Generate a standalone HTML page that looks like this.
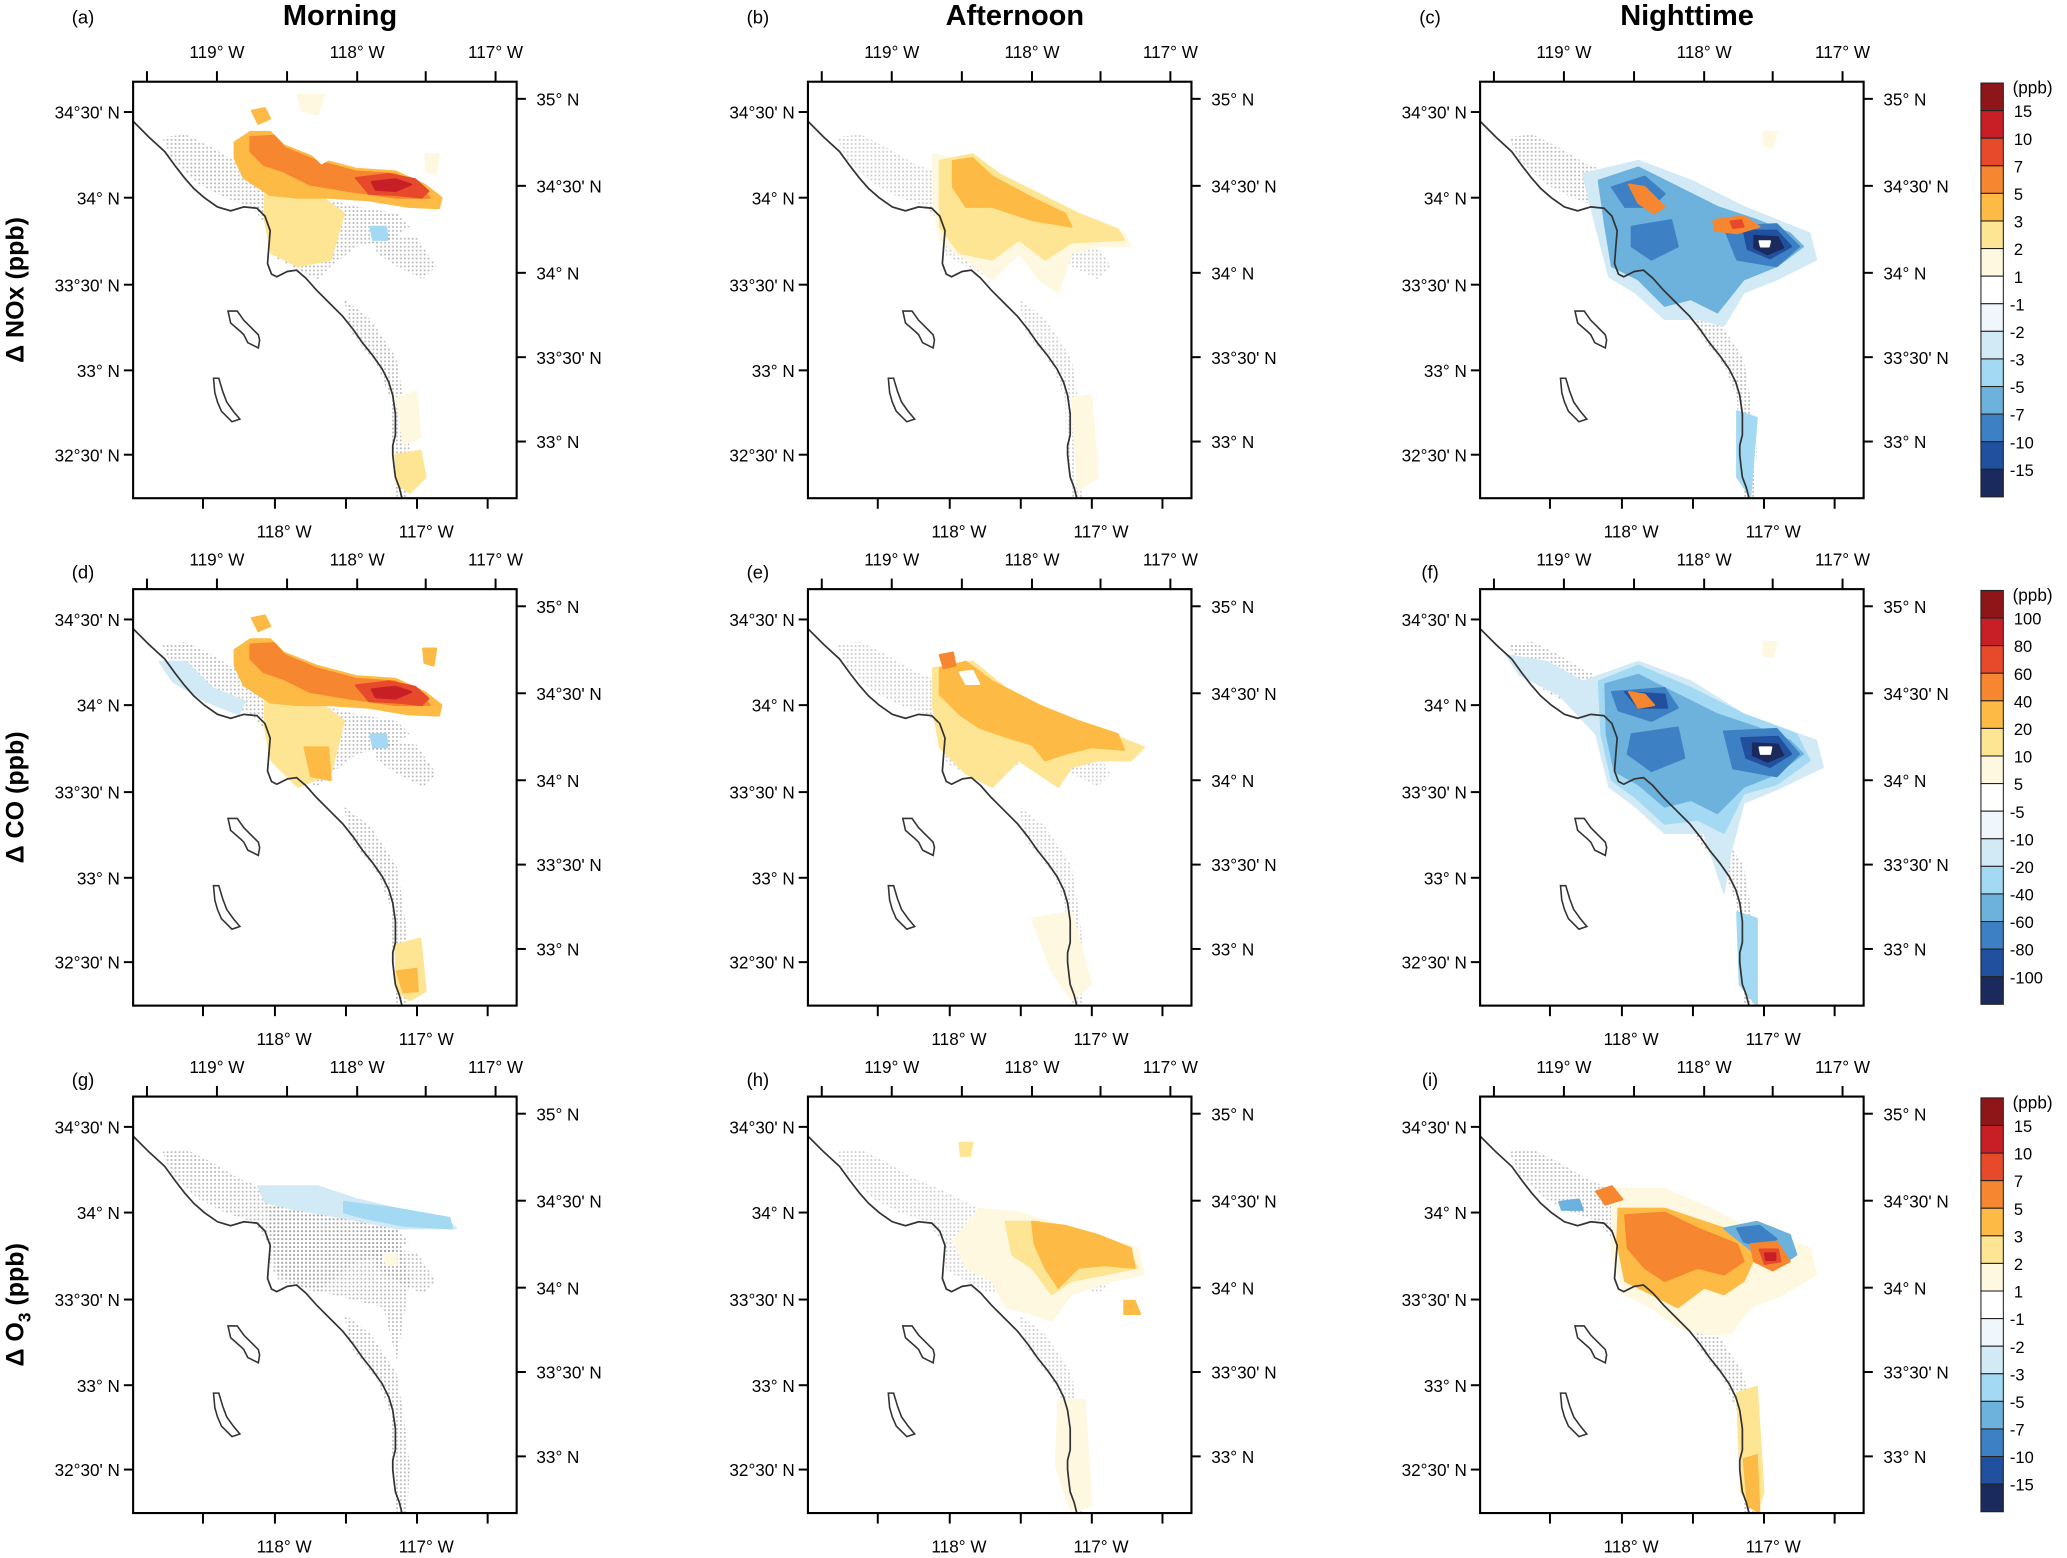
<!DOCTYPE html>
<html><head><meta charset="utf-8"><style>
html,body{margin:0;padding:0;background:#fff;}
svg{display:block;font-family:"Liberation Sans",sans-serif;}
</style></head><body>
<svg id="fig" xmlns="http://www.w3.org/2000/svg" width="2067" height="1558" viewBox="0 0 1568.3 1182.1">
<defs>
<pattern id="stip" width="3" height="3" patternUnits="userSpaceOnUse"><rect x="0.5" y="0.5" width="1.3" height="1.3" fill="#9a9a9a"/></pattern>
</defs>
</svg>
<script>
const NS='http://www.w3.org/2000/svg';
const svg=document.getElementById('fig');
const cmap=['#8e1518','#c81e26','#e64a2b','#f6862f','#fdbb45','#fde593','#fff8e1','#ffffff','#f0f7fc','#d2eaf6','#a3d9f3','#6db1dd','#3d81c4','#21509f','#1b2a5c'];
const colX=[101,613,1123];
const rowY=[62,447,832];
const FW=291, FH=316;
const colTitles=['Morning','Afternoon','Nighttime'];
const panelLetters=['(a)','(b)','(c)','(d)','(e)','(f)','(g)','(h)','(i)'];
const topTickPos=[10.5,63.6,116.8,170,222,275];
const topTickLabels=['','119° W','','118° W','','117° W'];
const botTickPos=[53,107.6,161.5,215.4,269];
const botTickLabels=['','118° W','','117° W',''];
const leftTickPos=[23,88,154,219,283];
const leftTickLabels=['34°30\' N','34° N','33°30\' N','33° N','32°30\' N'];
const rightTickPos=[13,79,145,209,273];
const rightTickLabels=['35° N','34°30\' N','34° N','33°30\' N','33° N'];
const cbLabelsA=['15','10','7','5','3','2','1','-1','-2','-3','-5','-7','-10','-15'];
const cbLabelsB=['100','80','60','40','20','10','5','-5','-10','-20','-40','-60','-80','-100'];
const coast=[[0,30],[12,42],[24,53],[32,64],[39,73],[46,81],[54,88],[64,95],[74,98],[84,95],[94,96],[100,102],[104,113],[103,125],[102,138],[105,146],[109,148],[117,144],[124,143],[131,149],[139,158],[149,168],[159,178],[167,188],[174,198],[182,208],[189,218],[194,228],[197,238],[199,252],[199,268],[197,276],[197,283],[198,292],[199,300],[202,308],[204,316]];
const island1=[[72,174],[79,174],[84,181],[89,186],[95,192],[96,196],[95,202],[87,198],[84,192],[82,190],[74,183]];
const island2=[[61,225],[65,225],[68,235],[71,243],[76,250],[81,256],[75,258],[67,250],[64,243],[62,236]];
const stippleRegions=[
 [[22,42],[40,40],[60,50],[80,62],[100,70],[130,85],[170,95],[200,100],[210,110],[195,120],[170,125],[150,140],[140,150],[120,140],[105,132],[102,110],[90,95],[70,88],[50,78],[30,60]],
 [[160,165],[180,180],[200,210],[205,240],[210,280],[208,316],[200,316],[196,280],[195,240],[185,215],[165,190]],
 [[180,115],[215,118],[230,140],[220,150],[200,140],[185,130]]
];
const blobs=[
 // (a) NOx morning
 [[5,[[100,85],[140,85],[160,100],[150,135],[125,140],[105,130],[100,105]]],[5,[[199,283],[218,280],[222,300],[210,312],[200,305]]],[6,[[200,240],[215,235],[218,270],[205,275]]],[6,[[222,55],[232,55],[230,70],[222,68]]],[6,[[125,10],[145,10],[140,25],[128,22]]],[4,[[77,46],[89,38],[104,38],[114,48],[139,58],[169,66],[199,68],[221,78],[234,88],[232,96],[209,95],[179,90],[149,88],[124,88],[104,86],[84,73],[77,58]]],[3,[[89,42],[107,41],[115,50],[139,60],[169,68],[199,70],[219,80],[225,88],[199,88],[164,83],[134,78],[114,68],[99,63],[89,53]]],[2,[[169,73],[194,70],[214,74],[224,83],[219,88],[199,86],[179,85]]],[1,[[181,76],[199,74],[211,78],[199,83],[184,82]]],[7,[[133,52],[142,50],[150,58],[143,62]]],[4,[[90,22],[100,20],[104,28],[95,32]]],[10,[[180,110],[192,110],[193,120],[182,120]]]],
 // (b)
 [[6,[[95,55],[120,60],[160,80],[200,100],[240,115],[245,125],[220,125],[200,130],[190,160],[175,150],[160,130],[140,150],[120,135],[100,120],[95,90]]],[6,[[200,240],[215,238],[220,300],[205,310]]],[5,[[100,60],[125,55],[145,70],[175,85],[205,100],[235,112],[240,120],[200,122],[180,135],[160,120],[140,135],[115,130],[100,110]]],[4,[[110,60],[125,58],[140,72],[170,88],[195,100],[200,110],[170,105],[140,95],[120,95],[110,80]]]],
 // (c)
 [[9,[[78,70],[120,60],[160,75],[200,95],[250,115],[255,135],[225,150],[200,160],[185,185],[165,180],[140,180],[118,160],[98,148],[88,110]]],[11,[[90,75],[120,65],[150,80],[180,95],[210,105],[235,115],[245,125],[225,140],[200,150],[180,175],[160,165],[140,170],[120,150],[100,140],[95,110]]],[12,[[100,80],[125,72],[140,85],[130,95],[110,95]]],[12,[[115,110],[145,105],[150,125],[130,135],[115,125]]],[12,[[185,110],[225,108],[242,125],[225,140],[195,135]]],[13,[[200,113],[225,113],[236,125],[220,134],[203,127]]],[14,[[208,117],[226,118],[230,126],[218,131],[208,126]]],[7,[[212,121],[220,121],[219,125],[213,125]]],[3,[[113,78],[125,80],[140,95],[132,100],[120,92]]],[3,[[177,105],[200,102],[212,110],[195,115],[178,113]]],[2,[[190,106],[198,105],[200,110],[192,111]]],[10,[[195,250],[210,255],[205,315],[195,300]]],[6,[[215,38],[225,38],[222,50],[215,48]]]],
 // (d) CO morning
 [[9,[[20,55],[40,55],[60,75],[85,85],[80,95],[55,85],[30,70]]],[5,[[100,85],[140,85],[160,100],[150,140],[125,150],[105,130],[100,105]]],[5,[[199,270],[218,265],[222,305],[210,312],[200,305]]],[4,[[200,290],[215,288],[216,305],[205,306]]],[4,[[77,46],[89,38],[104,38],[114,48],[139,58],[169,66],[199,68],[221,78],[234,88],[232,96],[209,95],[179,90],[149,88],[124,88],[104,86],[84,73],[77,58]]],[4,[[130,120],[148,120],[150,145],[135,142]]],[3,[[89,42],[107,41],[115,50],[139,60],[169,68],[199,70],[219,80],[225,88],[199,88],[164,83],[134,78],[114,68],[99,63],[89,53]]],[2,[[169,73],[194,70],[214,74],[224,83],[219,88],[199,86],[179,85]]],[1,[[181,76],[199,74],[211,78],[199,83],[184,82]]],[4,[[90,22],[100,20],[104,28],[95,32]]],[4,[[220,45],[230,45],[228,58],[221,56]]],[10,[[180,110],[192,110],[193,120],[182,120]]]],
 // (e)
 [[6,[[170,250],[200,245],[215,300],[200,312],[185,290]]],[5,[[95,60],[125,55],[150,75],[190,95],[230,110],[255,120],[245,130],[220,130],[200,135],[190,150],[175,140],[160,130],[140,150],[120,140],[100,120],[95,90]]],[4,[[100,60],[120,55],[140,70],[175,88],[205,100],[235,110],[240,122],[215,120],[195,125],[180,130],[170,118],[150,112],[130,105],[115,95],[100,80]]],[3,[[100,50],[110,48],[112,58],[103,60]]],[7,[[115,63],[125,62],[130,72],[120,72]]]],
 // (f)
 [[9,[[20,50],[50,55],[78,70],[120,55],[160,70],[200,95],[255,115],[260,135],[225,152],[200,162],[190,200],[185,230],[170,185],[140,185],[118,165],[98,150],[88,110],[60,80],[30,65]]],[10,[[90,70],[120,58],[160,75],[200,95],[240,110],[250,130],[225,148],[200,155],[185,185],[165,175],[140,178],[118,158],[100,145],[92,110]]],[11,[[95,72],[120,65],[150,80],[180,95],[210,105],[235,115],[245,125],[225,140],[200,150],[180,170],[160,160],[140,165],[120,148],[102,138],[96,110]]],[12,[[100,78],[140,75],[150,90],[130,100],[105,92]]],[12,[[115,110],[150,105],[155,128],[130,138],[112,125]]],[12,[[185,108],[225,106],[242,125],[225,142],[192,136]]],[13,[[110,78],[140,80],[142,90],[120,90]]],[13,[[198,113],[226,112],[236,125],[220,135],[202,128]]],[14,[[207,117],[226,118],[230,126],[218,131],[207,126]]],[7,[[212,120],[221,120],[220,125],[213,125]]],[3,[[113,78],[125,80],[132,88],[120,90]]],[10,[[195,245],[210,250],[210,316],[197,300]]],[6,[[215,40],[225,40],[222,52],[215,50]]]],
 // (g) O3 morning
 [[9,[[95,68],[140,68],[170,78],[200,85],[240,95],[245,100],[200,100],[160,92],[120,85],[100,80]]],[10,[[160,80],[200,85],[240,92],[242,100],[205,98],[175,92],[160,88]]],[6,[[190,120],[200,120],[200,128],[192,128]]]],
 // (h)
 [[6,[[130,85],[160,88],[200,100],[250,115],[255,135],[230,140],[200,150],[185,170],[170,165],[150,160],[140,140],[120,130],[110,110]]],[6,[[190,230],[210,230],[215,310],[200,316],[188,280]]],[5,[[150,95],[175,95],[200,105],[245,120],[250,130],[225,135],[200,140],[185,150],[170,130],[155,120]]],[4,[[170,95],[195,98],[220,105],[245,115],[248,130],[225,128],[205,130],[190,145],[180,130],[172,112]]],[4,[[240,155],[248,155],[252,165],[240,165]]],[5,[[115,35],[125,35],[123,45],[116,45]]]],
 // (i)
 [[6,[[100,70],[140,70],[175,85],[205,100],[250,115],[255,135],[230,150],[205,160],[190,180],[170,180],[150,175],[130,160],[110,150],[100,120]]],[4,[[105,85],[140,85],[170,95],[200,105],[210,118],[200,140],[185,150],[170,145],[150,160],[130,150],[110,140],[104,110]]],[3,[[110,90],[140,88],[165,100],[195,112],[200,125],[185,135],[165,130],[140,140],[125,130],[112,115]]],[3,[[88,72],[100,68],[108,78],[95,82]]],[11,[[185,100],[210,95],[235,105],[240,120],[228,128],[210,120]]],[12,[[195,100],[212,98],[225,108],[215,115],[200,110]]],[3,[[205,112],[225,110],[235,125],[222,132],[208,125]]],[2,[[212,116],[226,116],[228,125],[216,127]]],[1,[[216,119],[224,119],[224,124],[217,124]]],[5,[[195,225],[210,220],[215,300],[210,316],[198,300]]],[4,[[200,275],[210,272],[212,316],[203,310]]],[11,[[60,80],[75,78],[78,86],[62,86]]]]
];
function el(tag,attrs,parent){const e=document.createElementNS(NS,tag);for(const k in attrs)e.setAttribute(k,attrs[k]);(parent||svg).appendChild(e);return e;}
function pts(arr,ox,oy){return arr.map(p=>(p[0]+ox).toFixed(1)+','+(p[1]+oy).toFixed(1)).join(' ');}
function txt(x,y,s,size,anchor,weight,parent){const t=el('text',{x:x,y:y,'font-size':size,'text-anchor':anchor||'start','font-weight':weight||'normal',fill:'#000'},parent);t.textContent=s;return t;}

for(let r=0;r<3;r++){for(let c=0;c<3;c++){
 const i=r*3+c, ox=colX[c], oy=rowY[r];
 const g=el('g',{});
 
 
 const clipId='clip'+i;
 const cp=el('clipPath',{id:clipId},g);el('rect',{x:ox,y:oy,width:FW,height:FH},cp);
 const inner=el('g',{'clip-path':'url(#'+clipId+')'},g);
 const st=(r===2&&c===0)?[...stippleRegions,[[100,80],[200,100],[210,140],[200,200],[190,160],[150,150],[110,140]]]:stippleRegions;
 st.forEach(reg=>{const p=el('polygon',{points:pts(reg,ox,oy),fill:'url(#stip)',opacity:(c===1?0.55:0.75)},inner);});
 blobs[i].forEach(b=>{const p=el('polygon',{points:pts(b[1],ox,oy),fill:cmap[b[0]],'stroke':cmap[b[0]],'stroke-width':1.5,'stroke-linejoin':'round'},inner);});
 const cl=el('polyline',{points:pts(coast,ox,oy),fill:'none',stroke:'#333','stroke-width':1.3},inner);
 [island1,island2].forEach(isl=>{const p=el('polygon',{points:pts(isl,ox,oy),fill:'none',stroke:'#333','stroke-width':1.2},inner);});
 const fr=el('rect',{x:ox,y:oy,width:FW,height:FH,fill:'none',stroke:'#000','stroke-width':1.6},g);
 topTickPos.forEach((t,k)=>{el('line',{x1:ox+t,x2:ox+t,y1:oy,y2:oy-8,stroke:'#000','stroke-width':1.5},g);if(topTickLabels[k]){const tt=txt(ox+t,oy-18,topTickLabels[k],13,'middle',null,g);}});
 botTickPos.forEach((t,k)=>{el('line',{x1:ox+t,x2:ox+t,y1:oy+FH,y2:oy+FH+8,stroke:'#000','stroke-width':1.5},g);if(botTickLabels[k]){const tt=txt(ox+t+7,oy+FH+30,botTickLabels[k],13,'middle',null,g);}});
 leftTickPos.forEach((t,k)=>{el('line',{x1:ox,x2:ox-7,y1:oy+t,y2:oy+t,stroke:'#000','stroke-width':1.5},g);const tt=txt(ox-10,oy+t+5,leftTickLabels[k],13,'end',null,g);});
 rightTickPos.forEach((t,k)=>{el('line',{x1:ox+FW,x2:ox+FW+7,y1:oy+t,y2:oy+t,stroke:'#000','stroke-width':1.5},g);const tt=txt(ox+FW+15,oy+t+5,rightTickLabels[k],13,'start',null,g);});
 const pl=txt(ox-38,(r===0?oy-44:oy-8),panelLetters[i],14,'middle',null,g);
 
 
}}
colTitles.forEach((t,c)=>{const tt=txt(colX[c]+157,19,t,22,'middle','bold');});
const rowLabels=[['Δ NOx (ppb)',null],['Δ CO (ppb)',null],['Δ O','3']];
rowLabels.forEach((rl,r)=>{
 const cy=rowY[r]+158;
 const t=el('text',{x:0,y:0,'font-size':19,'font-weight':'bold','text-anchor':'middle',transform:'translate(18,'+cy+') rotate(-90)'});
 
 
 if(rl[1]){t.appendChild(document.createTextNode(rl[0]));const s=el('tspan',{'font-size':13,dy:5},t);s.textContent=rl[1];const s2=el('tspan',{dy:-5},t);s2.textContent=' (ppb)';}
 else t.textContent=rl[0];
});
for(let r=0;r<3;r++){
 const g=el('g',{});
 
 
 const x=1503,y0=rowY[r]+1,bh=314/15;
 cmap.forEach((col,k)=>{el('rect',{x:x,y:y0+k*bh,width:17,height:bh,fill:col,stroke:'#222','stroke-width':0.8},g);});
 txt(x+24,y0+8,'(ppb)',13,'start',null,g);
 const labs=r===1?cbLabelsB:cbLabelsA;
 labs.forEach((l,k)=>{const tt=txt(x+(l[0]==='-'?22:25),y0+(k+1)*bh+5,l,12.5,'start',null,g);});
}
</script>
</body></html>
